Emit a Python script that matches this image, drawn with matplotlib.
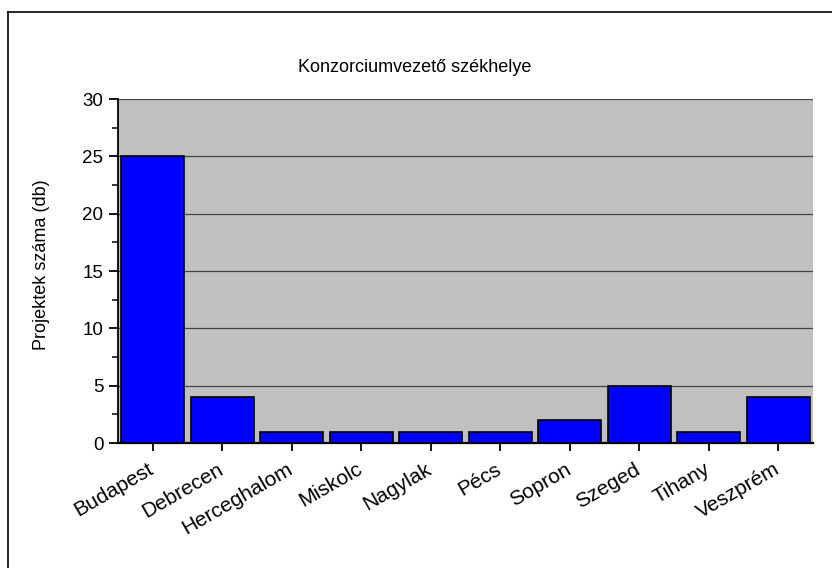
import matplotlib
matplotlib.use("Agg")
import matplotlib.pyplot as plt
from matplotlib.lines import Line2D
from matplotlib.ticker import MultipleLocator
from matplotlib.transforms import ScaledTranslation

plt.rcParams['font.family'] = ['Liberation Sans', 'DejaVu Sans']

categories = ["Budapest", "Debrecen", "Herceghalom", "Miskolc", "Nagylak",
              "Pécs", "Sopron", "Szeged", "Tihany", "Veszprém"]
values = [25, 4, 1, 1, 1, 1, 2, 5, 1, 4]
title = "Konzorciumvezető székhelye"
ylabel = "Projektek száma (db)"

W, H = 832, 568
fig = plt.figure(figsize=(W/100, H/100), dpi=100)
ax = fig.add_axes([118/W, 1-443/H, (813-118)/W, (443-99)/H])
ax.set_facecolor('#c0c0c0')

x = list(range(len(categories)))
ax.bar(x, values, width=0.9, color='#0000ff', edgecolor='black', linewidth=1.2, zorder=3)
ax.set_xlim(-0.5, len(categories)-0.5)
ax.set_ylim(0, 30)
ax.yaxis.set_major_locator(MultipleLocator(5))
ax.yaxis.set_minor_locator(MultipleLocator(2.5))
ax.grid(axis='y', which='major', color='#444444', linewidth=0.9, zorder=1)
ax.set_axisbelow(True)

for s in ['top', 'right']:
    ax.spines[s].set_visible(False)
ax.spines['left'].set_linewidth(1.3)
ax.spines['bottom'].set_linewidth(1.6)

ax.set_xticks(x)
ax.set_xticklabels(categories, rotation=30, ha='right', rotation_mode='anchor', fontsize=15)
ax.tick_params(axis='x', length=6, width=1.3, pad=6)
ax.tick_params(axis='y', which='major', length=6.5, width=1.3, labelsize=13.5, pad=4)
ax.tick_params(axis='y', which='minor', length=4, width=1.1)
off = ScaledTranslation(-5/100, 0, fig.dpi_scale_trans)
for lab in ax.get_xticklabels():
    lab.set_transform(lab.get_transform() + off)

fig.text(42/W, 1-265/H, ylabel, rotation=90, ha='center', va='center', fontsize=13)
fig.text(415/W, 1-68/H, title, ha='center', va='center', fontsize=13)

# figure border (left and top visible)
fig.add_artist(Line2D([8/W, 8/W], [0, 1-12/H], color='black', linewidth=1.2, transform=fig.transFigure))
fig.add_artist(Line2D([8/W, 1], [1-12/H, 1-12/H], color='black', linewidth=1.2, transform=fig.transFigure))

fig.savefig("out.png", dpi=100)
